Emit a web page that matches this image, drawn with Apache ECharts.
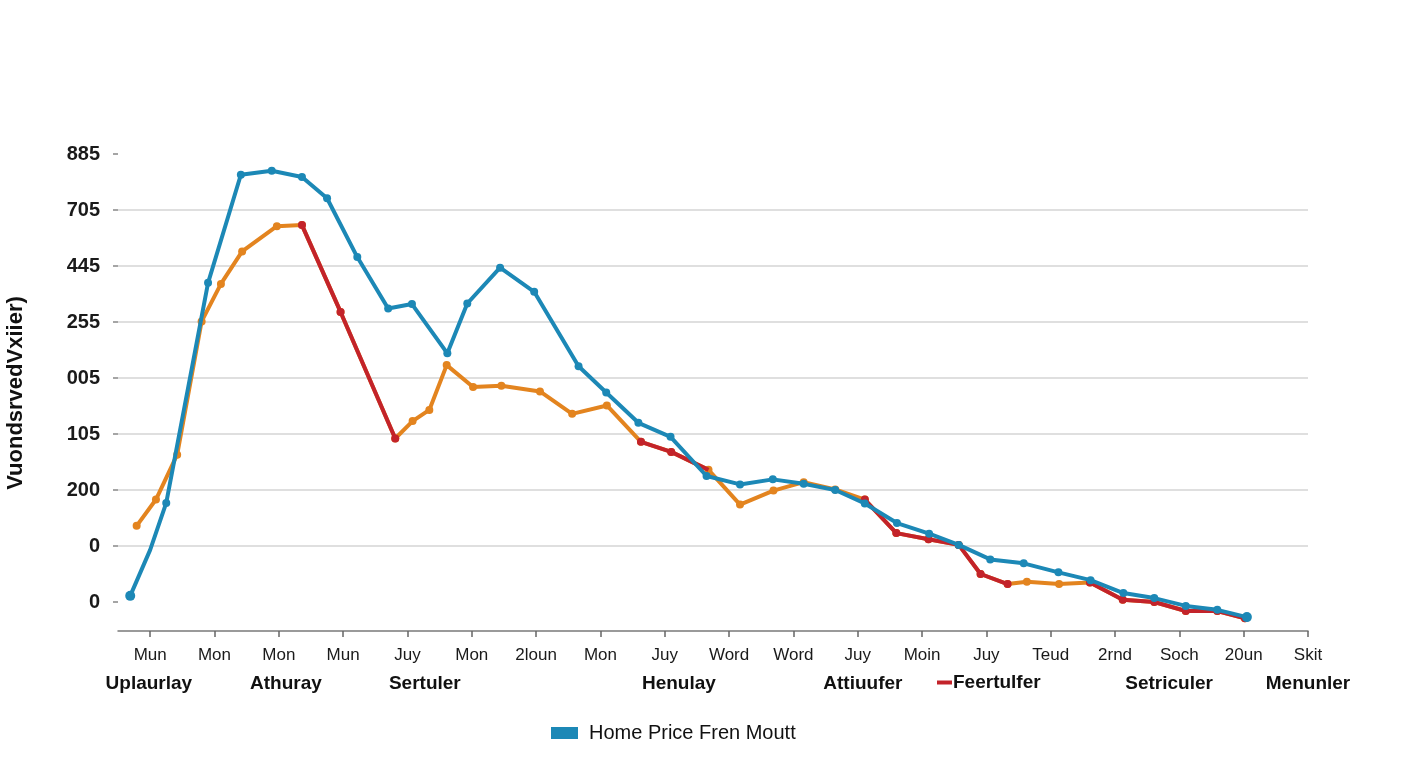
<!DOCTYPE html>
<html><head><meta charset="utf-8">
<script src="https://cdn.jsdelivr.net/npm/echarts@6/dist/echarts.min.js"></script>
<style>html,body{margin:0;padding:0;background:#fff}#c{width:1408px;height:768px}</style>
</head><body><div id="c"></div>
<script>
// ---- data ----
const yTickLabels = ['0', '0', '200', '105', '005', '255', '445', '705', '885'];
const xTickValues = [0,1,2,3,4,5,6,7,8,9,10,11,12,13,14,15,16,17,18];
const xTickLabels = ['Mun','Mon','Mon','Mun','Juy','Mon','2loun','Mon','Juy','Word','Word','Juy','Moin','Juy','Teud','2rnd','Soch','20un','Skit'];
const groupLabels = ['Uplaurlay','Athuray','Sertuler','Henulay','Attiuufer','Setriculer','Menunler'];
const groupPos = [-0.02, 2.11, 4.27, 8.22, 11.08, 15.84, 18.0];
const yTitle = 'VuondsrvedVxiier)';

const blueName = 'Home Price Fren Moutt';
const blueX = [-0.31, 0.00, 0.25, 0.90, 1.41, 1.89, 2.36, 2.75, 3.22, 3.70, 4.07, 4.62, 4.93, 5.44, 5.97, 6.66, 7.09, 7.59, 8.09, 8.65, 9.17, 9.68, 10.16, 10.65, 11.11, 11.61, 12.11, 12.57, 13.06, 13.58, 14.12, 14.62, 15.13, 15.61, 16.10, 16.59, 17.05];
const blueY = [0.11, 0.93, 1.77, 5.70, 7.63, 7.70, 7.59, 7.21, 6.16, 5.24, 5.32, 4.44, 5.33, 5.97, 5.54, 4.21, 3.74, 3.20, 2.95, 2.25, 2.10, 2.19, 2.11, 2.00, 1.76, 1.41, 1.22, 1.02, 0.76, 0.69, 0.53, 0.39, 0.16, 0.07, -0.07, -0.14, -0.27];

const orangeX = [-0.21, 0.09, 0.42, 0.80, 1.10, 1.43, 1.97, 2.36, 2.96, 3.81, 4.08, 4.34, 4.61, 5.02, 5.46, 6.06, 6.56, 7.10, 7.63, 8.10, 8.68, 9.17, 9.69, 10.16, 10.65, 11.11, 11.60, 12.10, 12.57, 12.91, 13.33, 13.63, 14.13, 14.61, 15.12, 15.61, 16.10, 16.59, 17.02];
const orangeY = [1.36, 1.83, 2.63, 5.01, 5.68, 6.26, 6.71, 6.73, 5.18, 2.92, 3.23, 3.43, 4.23, 3.84, 3.86, 3.76, 3.36, 3.51, 2.86, 2.68, 2.36, 1.74, 1.99, 2.14, 2.01, 1.83, 1.23, 1.12, 1.02, 0.50, 0.32, 0.36, 0.32, 0.35, 0.04, 0.00, -0.16, -0.16, -0.29];

const redName = 'Feertulfer';
const redSegments = [[7, 9], [18, 20], [25, 30], [33, 38]];
const redNoMarker = [20];

// ---- build ----
const BLUE = '#1c88b6', ORANGE = '#e3841f', RED = '#c3232a';
const FONT = 'Liberation Sans';

const blueData = blueX.map((x, i) => {
  const item = { value: [x, blueY[i]] };
  if (i === 1) item.symbol = 'none';
  if (i === 0 || i === blueX.length - 1) item.symbolSize = 10;
  return item;
});
const orangeData = orangeX.map((x, i) => [x, orangeY[i]]);
const redData = [];
redSegments.forEach((seg, k) => {
  if (k > 0) redData.push(['-', '-']);
  for (let i = seg[0]; i <= seg[1]; i++) {
    const item = { value: [orangeX[i], orangeY[i]] };
    if (redNoMarker.includes(i)) item.symbol = 'none';
    redData.push(item);
  }
});

function nearestIdx(arr, v) {
  let b = 0;
  arr.forEach((a, i) => { if (Math.abs(a - v) < Math.abs(arr[b] - v)) b = i; });
  return b;
}

const chart = echarts.init(document.getElementById('c'), null, { renderer: 'canvas' });
chart.setOption({
  backgroundColor: '#ffffff',
  animation: false,
  grid: { left: 118, right: 100, top: 154, bottom: 166, containLabel: false, outerBoundsMode: 'none' },
  legend: [
    {
      data: [blueName], left: 551, top: 723, padding: 0,
      icon: 'rect', itemWidth: 27, itemHeight: 12,
      textStyle: { fontFamily: FONT, fontSize: 20, color: '#111', fontWeight: 500, padding: [0, 0, 0, 6] },
      selectedMode: false
    },
    {
      data: [redName], left: 937, top: 673, padding: 0,
      icon: 'rect', itemWidth: 15, itemHeight: 4,
      textStyle: { fontFamily: FONT, fontSize: 19, color: '#111', fontWeight: 'bold', padding: [0, 0, 0, -4] },
      selectedMode: false
    }
  ],
  xAxis: [
    {
      type: 'value', min: -0.5, max: 18, offset: 29,
      axisLine: { show: true, onZero: false, lineStyle: { color: '#7a7a7a', width: 1.5 } },
      axisTick: { show: true, customValues: xTickValues, length: 6, lineStyle: { color: '#666', width: 1.5 } },
      axisLabel: {
        customValues: xTickValues, margin: 16,
        formatter: v => xTickLabels[nearestIdx(xTickValues, v)],
        fontFamily: FONT, fontSize: 17, color: '#1a1a1a'
      },
      splitLine: { show: false }
    },
    {
      type: 'value', min: -0.5, max: 18, offset: 29, position: 'bottom',
      axisLine: { show: false, onZero: false },
      axisTick: { show: false },
      axisLabel: {
        customValues: groupPos, margin: 43,
        formatter: v => groupLabels[nearestIdx(groupPos, v)],
        fontFamily: FONT, fontSize: 19, fontWeight: 'bold', color: '#111'
      },
      splitLine: { show: false }
    }
  ],
  yAxis: {
    type: 'value', min: 0, max: 8, interval: 1,
    name: yTitle, nameLocation: 'middle', nameGap: 91,
    nameTextStyle: { fontFamily: FONT, fontSize: 22, fontWeight: 'bold', color: '#111', padding: [0, 30, 0, 0] },
    axisLine: { show: false, onZero: false },
    axisTick: { show: true, length: 5, lineStyle: { color: '#888', width: 1.5 } },
    axisLabel: {
      formatter: v => yTickLabels[Math.round(v)], margin: 18,
      fontFamily: FONT, fontSize: 20, fontWeight: 'bold', color: '#1a1a1a'
    },
    splitLine: { show: true, showMinLine: false, showMaxLine: false, lineStyle: { color: '#d4d4d4', width: 1.5 } }
  },
  series: [
    {
      name: 'orange', type: 'line', data: orangeData, clip: false,
      color: ORANGE, symbol: 'circle', symbolSize: 8,
      lineStyle: { width: 4, color: ORANGE }, itemStyle: { color: ORANGE }, z: 2
    },
    {
      name: redName, type: 'line', data: redData, clip: false, connectNulls: false,
      color: RED, symbol: 'circle', symbolSize: 8,
      lineStyle: { width: 4, color: RED }, itemStyle: { color: RED }, z: 3
    },
    {
      name: blueName, type: 'line', data: blueData, clip: false,
      color: BLUE, symbol: 'circle', symbolSize: 8,
      lineStyle: { width: 4, color: BLUE }, itemStyle: { color: BLUE }, z: 4
    }
  ]
});
</script>
</body></html>
